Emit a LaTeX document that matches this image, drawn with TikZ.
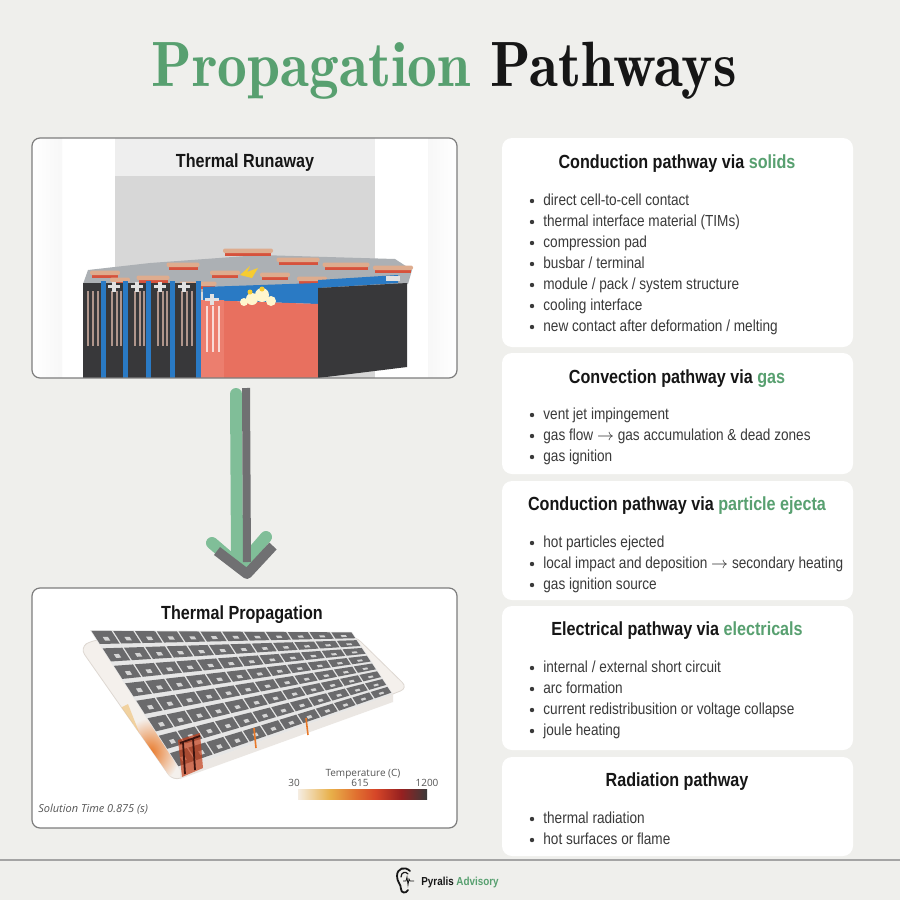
\documentclass[tikz,border=0pt]{standalone}
\usepackage{fontspec}
\newfontfamily\cardfont{Liberation Sans}[FakeStretch=0.85]
\newfontfamily\titlefont{lmromandemi10-regular}[Extension=.otf,FakeStretch=0.93]
\newfontfamily\plotfont{Open Sans}
\usetikzlibrary{calc}

\definecolor{bgcol}{RGB}{239,239,236}
\definecolor{accent}{RGB}{88,160,112}
\definecolor{headcol}{RGB}{22,22,22}
\definecolor{itemcol}{RGB}{58,58,58}
\definecolor{framecol}{RGB}{125,125,125}
\definecolor{arrowgreen}{RGB}{128,190,152}
\definecolor{arrowgray}{RGB}{112,112,114}
\definecolor{bandgray}{RGB}{238,238,238}
\definecolor{backgray}{RGB}{215,215,215}
\definecolor{platecol}{RGB}{172,176,180}
\definecolor{copper}{RGB}{222,172,142}
\definecolor{tabred}{RGB}{214,82,60}
\definecolor{celldark}{RGB}{56,56,58}
\definecolor{stripecol}{RGB}{176,150,140}
\definecolor{cellblue}{RGB}{42,122,196}
\definecolor{termcol}{RGB}{226,226,226}
\definecolor{cellred}{RGB}{232,112,95}
\definecolor{cellredside}{RGB}{236,126,110}
\definecolor{fumewhite}{RGB}{255,246,205}
\definecolor{sparkyellow}{RGB}{246,204,50}
\definecolor{platelight}{RGB}{244,240,236}
\definecolor{plateedge}{RGB}{222,216,210}
\definecolor{gridlight}{RGB}{230,230,230}
\definecolor{modgray}{RGB}{106,106,108}
\definecolor{modwin}{RGB}{212,212,212}
\definecolor{burnorange}{RGB}{232,120,40}
\definecolor{burnyellow}{RGB}{240,190,110}
\definecolor{burnred}{RGB}{196,62,26}
\definecolor{burndark}{RGB}{60,20,15}
\definecolor{plotgray}{RGB}{85,85,85}
\definecolor{tA}{RGB}{245,237,226}
\definecolor{tB}{RGB}{232,176,74}
\definecolor{tC}{RGB}{224,112,48}
\definecolor{tD}{RGB}{214,70,40}
\definecolor{tE}{RGB}{150,32,32}
\definecolor{tF}{RGB}{58,58,58}
\pgfdeclarehorizontalshading{tempscale}{100bp}{color(0bp)=(tA); color(25bp)=(tA); color(37.5bp)=(tB); color(47.5bp)=(tC); color(55bp)=(tD); color(65bp)=(tE); color(75bp)=(tF); color(100bp)=(tF)}

\begin{document}
\begin{tikzpicture}[x=0.5pt,y=-0.5pt,
	cardhead/.style={anchor=base,inner sep=0pt,text=headcol,font=\cardfont\bfseries\fontsize{9.5}{11}\selectfont},
	carditem/.style={anchor=base west,inner sep=0pt,text=itemcol,font=\cardfont\fontsize{8}{10}\selectfont},
	card/.style={fill=white,rounded corners=5pt},
	panelframe/.style={draw=framecol,line width=0.6pt,rounded corners=4pt},
	plotlabel/.style={anchor=base,inner sep=0pt,text=plotgray,font=\plotfont\fontsize{5}{6}\selectfont}]
	\useasboundingbox (0,0) rectangle (900,900);
	\fill[bgcol] (0,0) rectangle (900,900);
	
	%title
	\node[anchor=base,inner sep=0pt,text=headcol,font=\titlefont\fontsize{32}{32}\selectfont] (title) at (444,86) {\textcolor{accent}{Propagation} Pathways};
	
	%thermal runaway picture
	\begin{scope}
		\clip[rounded corners=4pt] (32,138) rectangle (457,378);
		\fill[white] (32,138) rectangle (457,378);
		\shade[left color=white,right color=gray!6] (32,138) rectangle (62,378);	%left pillar
		\shade[left color=gray!6,right color=white] (428,138) rectangle (457,378);	%right pillar
		\fill[bandgray] (115,138) rectangle (375,176);
		\fill[backgray] (115,176) rectangle (375,378);
		%top plate and tabs
		\fill[platecol] (83,284) -- (88,270) -- (150,263) -- (260,255) -- (395,259) -- (412,270) -- (408,284) -- (318,288) -- (205,292) -- cycle;
		\foreach \cx/\cy/\w in {105/274/30, 120/281/20, 153/279/33, 183/266/33, 198/285/37, 225/274/30, 248/252/50, 298/261/43, 275/276/30, 346/266/47, 312/280/30, 393/269/40}
		{
			\fill[tabred] ({\cx-\w/2+2},\cy) rectangle ({\cx+\w/2-2},{\cy+3.5});
			\fill[copper,rounded corners=1pt] ({\cx-\w/2},{\cy-3.5}) rectangle ({\cx+\w/2},{\cy+1});
		}
		%left cells
		\fill[celldark] (83,283) rectangle (201,378);
		\foreach \sx in {88,93,98,112,117,121,135,140,144,158,163,167,182,187,192}
			\draw[stripecol,line width=0.6pt] (\sx,291) -- (\sx,346);
		\foreach \bx in {103,125,148,172,198}
			\fill[cellblue] ({\bx-2.5},281) rectangle ({\bx+2.5},378);
		\foreach \tx in {114,137,160,184}
		{
			\fill[termcol] ({\tx-6},285) rectangle ({\tx+6},288);
			\fill[termcol] ({\tx-2},282) rectangle ({\tx+2},292);
		}
		%red cell
		\fill[cellblue] (203,287) -- (318,283) -- (318,304) -- (203,300) -- cycle;
		\fill[cellred] (201,300) -- (318,304) -- (318,378) -- (201,378) -- cycle;
		\fill[cellredside] (201,300) rectangle (224,378);
		\foreach \sx in {207,213,219}
			\draw[white!75!cellred,line width=0.7pt] (\sx,306) -- (\sx,352);
		\fill[termcol] (205,298) rectangle (219,301);
		\fill[termcol] (210,294) rectangle (214,305);
		%black cell
		\fill[cellblue] (318,280) -- (398,275) -- (398,283) -- (318,288) -- cycle;
		\fill[celldark] (318,288) -- (407,283) -- (407,367) -- (318,378) -- cycle;
		\fill[termcol] (386,276) rectangle (400,281);
		%venting
		\fill[fumewhite] (252,299) circle (6);
		\fill[fumewhite] (262,295) circle (7);
		\fill[fumewhite] (271,301) circle (5);
		\fill[fumewhite] (244,302) circle (4);
		\fill[sparkyellow] (250,292) circle (2.5);
		\fill[sparkyellow] (262,289) circle (2.5);
		\fill[sparkyellow] (240,275) -- (250,266) -- (247,272) -- (258,268) -- (252,278) -- cycle;
	\end{scope}
	\draw[panelframe] (32,138) rectangle (457,378);
	\node[cardhead] (runawaytitle) at (245,167) {Thermal Runaway};
	
	%arrow
	\coordinate (arrowtop) at (236,394);
	\coordinate (arrowtip) at (240,567);
	\draw[arrowgreen,line width=6pt,line cap=round] (arrowtop) -- (237,556);
	\draw[arrowgreen,line width=6pt,line cap=round,line join=round] (212,543) -- (arrowtip) -- (266,537);
	\draw[arrowgray,line width=4pt] (246,388) -- (247,562);
	\draw[arrowgray,line width=5pt,line join=round] (217,551) -- (247,574) -- (273,546);
	
	%thermal propagation picture
	\begin{scope}
		\clip[rounded corners=4pt] (32,588) rectangle (457,828);
		\fill[white] (32,588) rectangle (457,828);
		\fill[platelight,draw=plateedge,line width=0.4pt,rounded corners=4pt] (80,648) -- (92,640) -- (355,636) -- (408,688) -- (173,781) -- cycle;
		\begin{scope}
			\clip[rounded corners=4pt] (80,648) -- (92,640) -- (355,636) -- (408,688) -- (173,781) -- cycle;
			\shade[inner color=burnorange,outer color=platelight] (150,752) ellipse (30 and 34);
			\fill[burnyellow,opacity=0.6] (112,712) -- (128,704) -- (150,760) -- (135,770) -- cycle;
		\end{scope}
		%modules
		\coordinate (mTL) at (90,630);
		\coordinate (mTR) at (352,632);
		\coordinate (mBR) at (393,694);
		\coordinate (mBL) at (180,770);
		\fill[gridlight] (mTL) -- (mTR) -- (mBR) -- (mBL) -- cycle;
		\fill[platelight!92!gray] (mBL) -- (mBR) -- ++(0,8) -- ($(mBL)+(0,9)$) -- cycle;
		\foreach \r in {0,...,7}
		{
			\foreach \c in {0,...,11}
			{
				\pgfmathsetmacro\ua{(\c+0.04)/12}
				\pgfmathsetmacro\ub{(\c+0.96)/12}
				\pgfmathsetmacro\va{(\r+0.05)/8}
				\pgfmathsetmacro\vb{(\r+0.8)/8}
				\fill[modgray] ($($(mTL)!\ua!(mTR)$)!\va!($(mBL)!\ua!(mBR)$)$) -- ($($(mTL)!\ub!(mTR)$)!\va!($(mBL)!\ub!(mBR)$)$) -- ($($(mTL)!\ub!(mTR)$)!\vb!($(mBL)!\ub!(mBR)$)$) -- ($($(mTL)!\ua!(mTR)$)!\vb!($(mBL)!\ua!(mBR)$)$) -- cycle;
				\pgfmathsetmacro\ua{(\c+0.38)/12}
				\pgfmathsetmacro\ub{(\c+0.62)/12}
				\pgfmathsetmacro\va{(\r+0.4)/8}
				\pgfmathsetmacro\vb{(\r+0.62)/8}
				\fill[modwin] ($($(mTL)!\ua!(mTR)$)!\va!($(mBL)!\ua!(mBR)$)$) -- ($($(mTL)!\ub!(mTR)$)!\va!($(mBL)!\ub!(mBR)$)$) -- ($($(mTL)!\ub!(mTR)$)!\vb!($(mBL)!\ub!(mBR)$)$) -- ($($(mTL)!\ua!(mTR)$)!\vb!($(mBL)!\ua!(mBR)$)$) -- cycle;
			}
		}
		%hot corner
		\fill[burnred,opacity=0.7] (178,740) -- (200,733) -- (203,768) -- (182,777) -- cycle;
		\draw[burndark,line width=0.9pt] (183,742) -- (185,774);
		\draw[burndark,line width=0.9pt] (193,738) -- (195,770);
		\draw[burndark,line width=0.9pt] (180,743) -- (200,736);
		\draw[burnorange,line width=0.8pt] (254,728) -- (256,748);
		\draw[burnorange,line width=0.8pt] (306,718) -- (308,735);
		%colour scale
		\shade[shading=tempscale] (298,789) rectangle (427,799);
		\node[plotlabel] (templabel) at (363,776) {Temperature (C)};
		\node[plotlabel] (tlow) at (294,786) {30};
		\node[plotlabel] (tmid) at (360,786) {615};
		\node[plotlabel] (thigh) at (427,786) {1200};
		\node[anchor=base west,inner sep=0pt,text=plotgray,font=\plotfont\itshape\fontsize{5.5}{6.5}\selectfont] (soltime) at (38,812) {Solution Time 0.875 (s)};
	\end{scope}
	\draw[panelframe] (32,588) rectangle (457,828);
	\node[cardhead] (propagationtitle) at (242,619) {Thermal Propagation};
	
	%cards
	\fill[card] (502,138) rectangle (853,347);	%solids
	\fill[card] (502,353) rectangle (853,474);	%gas
	\fill[card] (502,481) rectangle (853,600);	%ejecta
	\fill[card] (502,606) rectangle (853,750);	%electricals
	\fill[card] (502,757) rectangle (853,856);	%radiation
	
	%card headings
	\node[cardhead] (solidshead) at (677,168) {Conduction pathway via \textcolor{accent}{solids}};
	\node[cardhead] (gashead) at (677,383) {Convection pathway via \textcolor{accent}{gas}};
	\node[cardhead] (ejectahead) at (677,510) {Conduction pathway via \textcolor{accent}{particle ejecta}};
	\node[cardhead] (elechead) at (677,635) {Electrical pathway via \textcolor{accent}{electricals}};
	\node[cardhead] (radhead) at (677,786) {Radiation pathway};
	
	%card items
	\foreach \t [count=\i] in {direct cell-to-cell contact, thermal interface material (TIMs), compression pad, busbar / terminal, module / pack / system structure, cooling interface, new contact after deformation / melting}
	{
		\node[carditem] (solid\i) at (543,{205+21*(\i-1)}) {\t};
		\fill[itemcol] ($(solid\i.base west)+(-11,-4)$) circle (2.2);
	}
	\foreach \t [count=\i] in {vent jet impingement, gas flow $\rightarrow$ gas accumulation \& dead zones, gas ignition}
	{
		\node[carditem] (gas\i) at (543,{419+21*(\i-1)}) {\t};
		\fill[itemcol] ($(gas\i.base west)+(-11,-4)$) circle (2.2);
	}
	\foreach \t [count=\i] in {hot particles ejected, local impact and deposition $\rightarrow$ secondary heating, gas ignition source}
	{
		\node[carditem] (ejecta\i) at (543,{547+21*(\i-1)}) {\t};
		\fill[itemcol] ($(ejecta\i.base west)+(-11,-4)$) circle (2.2);
	}
	\foreach \t [count=\i] in {internal / external short circuit, arc formation, current redistribusition or voltage collapse, joule heating}
	{
		\node[carditem] (elec\i) at (543,{672+21*(\i-1)}) {\t};
		\fill[itemcol] ($(elec\i.base west)+(-11,-4)$) circle (2.2);
	}
	\foreach \t [count=\i] in {thermal radiation, hot surfaces or flame}
	{
		\node[carditem] (rad\i) at (543,{823+21*(\i-1)}) {\t};
		\fill[itemcol] ($(rad\i.base west)+(-11,-4)$) circle (2.2);
	}
	
	%footer
	\draw[framecol!70,line width=0.6pt] (0,860) -- (900,860);
	\draw[headcol,line width=0.9pt,line cap=round] (410,871) .. controls (405,866) and (397,868) .. (397,876) .. controls (397,882) and (401,884) .. (401,889) .. controls (401,893) and (406,894) .. (408,890);
	\draw[headcol,line width=0.6pt,line cap=round] (401,877) .. controls (401,872) and (406,871) .. (408,874);
	\draw[headcol,line width=0.4pt] (403,881) -- (406,881) -- (407,877) -- (408,885) -- (409,879) -- (410,881) -- (414,881);
	\node[anchor=base west,inner sep=0pt,font=\cardfont\bfseries\fontsize{5.8}{7}\selectfont] (brand) at (421,885) {\textcolor{headcol}{Pyralis} \textcolor{accent}{Advisory}};
\end{tikzpicture}
\end{document}
